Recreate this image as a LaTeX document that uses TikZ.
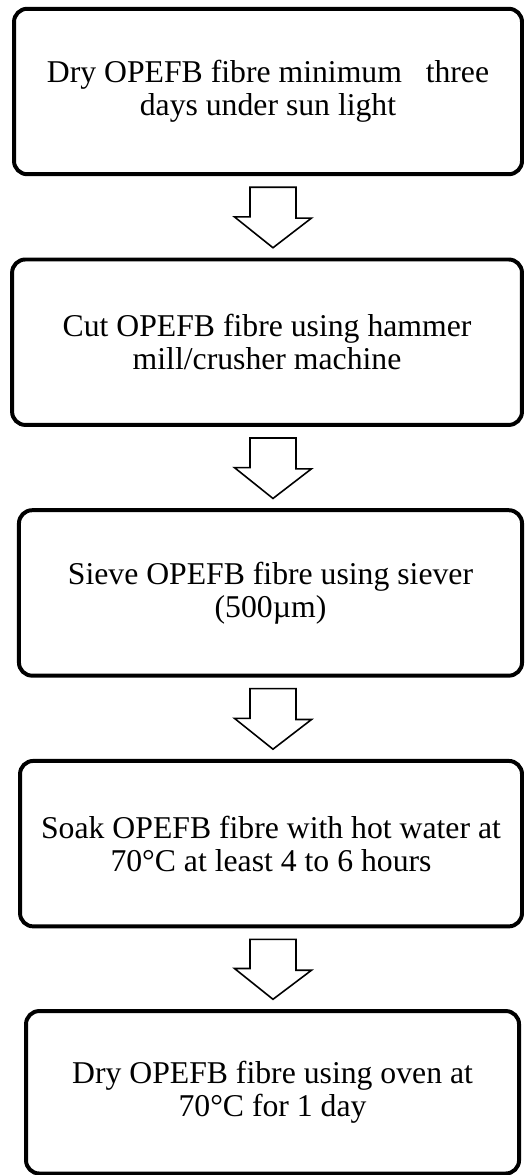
\documentclass[tikz,border=0pt]{standalone}
\usepackage{fontspec}
\setmainfont{Liberation Serif}
\usetikzlibrary{calc}

\tikzset{
  stepbox/.style={draw, line width=1.5pt, rounded corners=5pt, minimum height=2.2cm,
    align=center, font=\fontsize{12}{12.5}\selectfont},
  blockarrow/.style={draw, line width=0.6pt, fill=white}
}

\begin{document}
\begin{tikzpicture}
\useasboundingbox (0,0) rectangle (6.98,15.625);
% process steps, top to bottom
\node[stepbox, minimum width=6.755cm] (dry) at (3.564,14.408) {Dry OPEFB fibre minimum\hspace{.75em}three\\days under sun light};
\node[stepbox, minimum width=6.78cm] (cut) at (3.551,11.074) {Cut OPEFB fibre using hammer\\mill/crusher machine};
\node[stepbox, minimum width=6.69cm] (sieve) at (3.597,7.740) {Sieve OPEFB fibre using siever\\(500µm)};
\node[stepbox, minimum width=6.675cm] (soak) at (3.604,4.406) {Soak OPEFB fibre with hot water at\\70°C at least 4 to 6 hours};
\node[stepbox, minimum width=6.556cm, minimum height=2.16cm] (oven) at (3.624,1.10) {Dry OPEFB fibre using oven at\\70°C for 1 day};
% hollow block arrows between the steps
\foreach \a/\b in {dry/cut,cut/sieve,sieve/soak,soak/oven}
  \draw[blockarrow] ($(3.63,0 |- \a.south)+(-0.306,-0.147)$) -- ++(0.612,0) -- ++(0,-0.41) -- ++(0.206,0)
    -- ($(3.63,0 |- \b.north)+(0,0.13)$) -- ++(-0.512,0.41) -- ++(0.206,0) -- cycle;
\end{tikzpicture}
\end{document}
